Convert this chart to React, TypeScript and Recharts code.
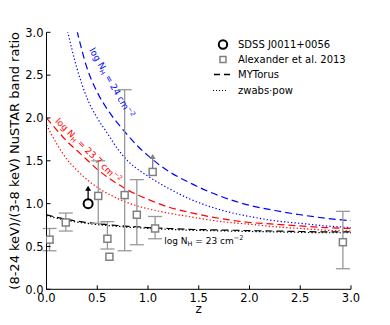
import React from "react";
import { ComposedChart, Line, Scatter, XAxis, YAxis, ErrorBar, ReferenceDot, Legend } from "recharts";

const FONT = "DejaVu Sans, sans-serif";

// axis ticks
const zTicks = [0, 0.5, 1, 1.5, 2, 2.5, 3];
const ratioTicks = [0, 0.5, 1, 1.5, 2, 2.5, 3];

// model curves on a shared redshift grid
const zGrid = [0, 0.1, 0.2, 0.3, 0.4, 0.5, 0.6, 0.7, 0.8, 0.9, 1.0, 1.2, 1.4, 1.6, 1.8, 2.0, 2.25, 2.5, 2.75, 3.0];
const myt24 = [null, null, null, 3.02, 2.58, 2.3, 2.1, 1.94, 1.8, 1.67, 1.56, 1.38, 1.25, 1.14, 1.05, 0.98, 0.92, 0.87, 0.83, 0.8];
const zw24 = [null, null, 3.05, 2.58, 2.23, 2.0, 1.82, 1.64, 1.5, 1.4, 1.32, 1.18, 1.06, 0.97, 0.9, 0.85, 0.8, 0.77, 0.74, 0.72];
const myt237 = [2.0, 1.86, 1.73, 1.62, 1.51, 1.4, 1.31, 1.23, 1.16, 1.1, 1.05, 0.96, 0.9, 0.85, 0.81, 0.78, 0.76, 0.74, 0.72, 0.71];
const zw237 = [1.92, 1.7, 1.52, 1.39, 1.28, 1.19, 1.12, 1.06, 1.01, 0.97, 0.94, 0.89, 0.85, 0.81, 0.78, 0.76, 0.73, 0.71, 0.69, 0.68];
const myt23 = [0.87, 0.84, 0.815, 0.795, 0.78, 0.765, 0.755, 0.745, 0.735, 0.73, 0.72, 0.71, 0.7, 0.695, 0.69, 0.685, 0.68, 0.675, 0.67, 0.67];
const zw23 = [0.86, 0.83, 0.805, 0.785, 0.77, 0.755, 0.745, 0.735, 0.725, 0.72, 0.71, 0.7, 0.69, 0.685, 0.68, 0.675, 0.67, 0.665, 0.66, 0.66];

// Alexander et al. 2013 sources
const alexZ = [0.03, 0.19, 0.51, 0.6, 0.77, 0.89, 1.07, 2.92];
const alexRatio = [0.58, 0.78, 1.09, 0.59, 1.1, 0.87, 0.71, 0.55];
const alexLow = [0.45, 0.68, 0.77, 0.47, 0.45, 0.52, 0.59, 0.24];
const alexHigh = [0.71, 0.89, 1.5, 0.79, 2.33, 1.28, 0.85, 0.91];
const alexBareZ = [0.62];
const alexBareRatio = [0.38];
const alexLimZ = [1.046];
const alexLimRatio = [1.37];

// SDSS J0011+0056 (lower limit)
const sdssZ = [0.41];
const sdssRatio = [1.0];

const curve = (vals: (number | null)[]) => zGrid.map((z, i) => ({ z, r: vals[i] }));
const alexData = alexZ.map((z, i) => ({
  z,
  r: alexRatio[i],
  err: [alexRatio[i] - alexLow[i], alexHigh[i] - alexRatio[i]],
}));
const alexBare = alexBareZ.map((z, i) => ({ z, r: alexBareRatio[i] }));
const alexLim = alexLimZ.map((z, i) => ({ z, r: alexLimRatio[i] }));
const sdss = sdssZ.map((z, i) => ({ z, r: sdssRatio[i] }));

const GRAY = "#808080";

const BottomTick = (p: any) => (
  <g>
    <line x1={p.x} y1={p.y} x2={p.x} y2={p.y - 4} stroke="#000" />
    <text x={p.x} y={p.y + 12.5} textAnchor="middle" fontSize={11.5} fontFamily={FONT} fill="#000">
      {p.payload.value.toFixed(1)}
    </text>
  </g>
);
const TopTick = (p: any) => <line x1={p.x} y1={p.y} x2={p.x} y2={p.y + 4} stroke="#000" />;
const LeftTick = (p: any) => (
  <g>
    <line x1={p.x} y1={p.y} x2={p.x + 4} y2={p.y} stroke="#000" />
    <text x={p.x - 3} y={p.y + 4.2} textAnchor="end" fontSize={11.5} fontFamily={FONT} fill="#000">
      {p.payload.value.toFixed(1)}
    </text>
  </g>
);
const RightTick = (p: any) => <line x1={p.x} y1={p.y} x2={p.x - 4} y2={p.y} stroke="#000" />;

const square = (p: any) => (
  <rect x={p.cx - 3.5} y={p.cy - 3.5} width={7} height={7} fill="#fff" stroke={GRAY} strokeWidth={1.5} />
);

const arrowUp = (cx: number, cy: number, color: string) => (
  <g>
    <line x1={cx} y1={cy} x2={cx} y2={cy - 14} stroke={color} strokeWidth={1.3} />
    <polygon points={`${cx},${cy - 18} ${cx - 3},${cy - 13} ${cx + 3},${cy - 13}`} fill={color} />
  </g>
);

const limitSquare = (p: any) => (
  <g>
    {arrowUp(p.cx, p.cy, GRAY)}
    {square(p)}
  </g>
);

const limitCircle = (p: any) => (
  <g>
    {arrowUp(p.cx, p.cy, "#000")}
    <circle cx={p.cx} cy={p.cy} r={4.5} fill="#fff" stroke="#000" strokeWidth={2} />
  </g>
);

const NhLabel = ({ cx, cy, angle, color, nh, anchor }: any) => (
  <text
    x={cx}
    y={cy}
    transform={angle ? `rotate(${angle} ${cx} ${cy})` : undefined}
    textAnchor={anchor}
    dy={angle ? 3 : 0}
    fontSize={9}
    fontFamily={FONT}
    fill={color}
  >
    log N
    <tspan dy={2} fontSize={6.5}>H</tspan>
    <tspan dy={-2}>{` = ${nh} cm`}</tspan>
    <tspan dy={-4} fontSize={6.5}>−2</tspan>
  </text>
);

const legendRows = [
  { name: "SDSS J0011+0056", kind: "circle" },
  { name: "Alexander et al. 2013", kind: "square" },
  { name: "MYTorus", kind: "dash" },
  { name: "zwabs·pow", kind: "dot" },
];

const LegendMark = ({ kind }: { kind: string }) => (
  <svg width={22} height={15} style={{ display: "block" }}>
    {kind === "circle" && <circle cx={12} cy={7.5} r={4.2} fill="#fff" stroke="#000" strokeWidth={2} />}
    {kind === "square" && <rect x={9} y={4.5} width={6} height={6} fill="#fff" stroke={GRAY} strokeWidth={1.5} />}
    {kind === "dash" && <line x1={3} y1={7.5} x2={19} y2={7.5} stroke="#000" strokeWidth={1.3} strokeDasharray="6 4" />}
    {kind === "dot" && <line x1={2} y1={7.5} x2={16} y2={7.5} stroke="#000" strokeWidth={1} strokeDasharray="1 2" />}
  </svg>
);

const LegendBox = () => (
  <div style={{ fontFamily: FONT, fontSize: 10, color: "#000" }}>
    {legendRows.map((row) => (
      <div key={row.name} style={{ display: "flex", alignItems: "center", height: 15.2 }}>
        <LegendMark kind={row.kind} />
        <span style={{ marginLeft: 5, whiteSpace: "nowrap" }}>{row.name}</span>
      </div>
    ))}
  </div>
);

const YTitle = (props: any) => {
  const vb = props.viewBox;
  const cy = vb.y + vb.height / 2;
  return (
    <text x={11.5} y={cy} transform={`rotate(-90 11.5 ${cy})`} textAnchor="middle" fontSize={13} fontFamily={FONT} fill="#000">
      (8-24 keV)/(3-8 keV) NuSTAR band ratio
    </text>
  );
};

const XTitle = (props: any) => {
  const vb = props.viewBox;
  return (
    <text x={vb.x + vb.width / 2} y={vb.y + 24} textAnchor="middle" fontSize={12} fontFamily={FONT} fill="#000">
      z
    </text>
  );
};

export default function App() {
  const lineProps = { dataKey: "r", dot: false, type: "monotone" as const, isAnimationActive: false, strokeWidth: 1.2, legendType: "none" as const };
  return (
    <ComposedChart width={374} height={309} margin={{ top: 24.3, right: 31, bottom: 0, left: 0 }}>
      <XAxis type="number" dataKey="z" domain={[0, 3]} ticks={zTicks} allowDataOverflow tickSize={0} tickMargin={0} tickLine={false} tick={BottomTick} height={27.7} stroke="#000" label={XTitle} />
      <XAxis xAxisId="top" orientation="top" type="number" dataKey="z" domain={[0, 3]} ticks={zTicks} allowDataOverflow tickSize={0} tickMargin={0} tickLine={false} tick={TopTick} height={0} stroke="#000" />
      <YAxis type="number" domain={[0, 3]} ticks={ratioTicks} allowDataOverflow tickSize={0} tickMargin={0} tickLine={false} tick={LeftTick} width={38.5} stroke="#000" label={YTitle} />
      <YAxis yAxisId="right" orientation="right" type="number" domain={[0, 3]} ticks={ratioTicks} allowDataOverflow tickSize={0} tickMargin={0} tickLine={false} tick={RightTick} width={0} stroke="#000" />

      <Line {...lineProps} data={curve(zw24)} stroke="#0000ff" strokeDasharray="1.3 2.2" />
      <Line {...lineProps} data={curve(myt24)} stroke="#0000ff" strokeDasharray="7 4" />
      <Line {...lineProps} data={curve(zw237)} stroke="#ff0000" strokeDasharray="1.3 2.2" />
      <Line {...lineProps} data={curve(myt237)} stroke="#ff0000" strokeDasharray="7 4" />
      <Line {...lineProps} data={curve(zw23)} stroke="#000" strokeDasharray="1.3 2.2" />
      <Line {...lineProps} data={curve(myt23)} stroke="#000" strokeDasharray="7 4" />

      <Scatter data={alexData} dataKey="r" shape={square} isAnimationActive={false} legendType="none">
        <ErrorBar dataKey="err" direction="y" width={7} stroke="#999" strokeWidth={1.3} />
      </Scatter>
      <Scatter data={alexBare} dataKey="r" shape={square} isAnimationActive={false} legendType="none" />
      <Scatter data={alexLim} dataKey="r" shape={limitSquare} isAnimationActive={false} legendType="none" />
      <Scatter data={sdss} dataKey="r" shape={limitCircle} isAnimationActive={false} legendType="none" />

      <ReferenceDot x={0.64} y={2.41} r={0} shape={(p: any) => <NhLabel {...p} angle={60} color="#0000ff" nh="24" anchor="middle" />} />
      <ReferenceDot x={0.41} y={1.62} r={0} shape={(p: any) => <NhLabel {...p} angle={44.7} color="#ff0000" nh="23.7" anchor="middle" />} />
      <ReferenceDot x={1.16} y={0.53} r={0} shape={(p: any) => <NhLabel {...p} angle={0} color="#000" nh="23" anchor="start" />} />

      <Legend layout="vertical" align="center" verticalAlign="middle" content={LegendBox} wrapperStyle={{ left: 203, top: 29, width: 160, height: 64 }} />
    </ComposedChart>
  );
}
